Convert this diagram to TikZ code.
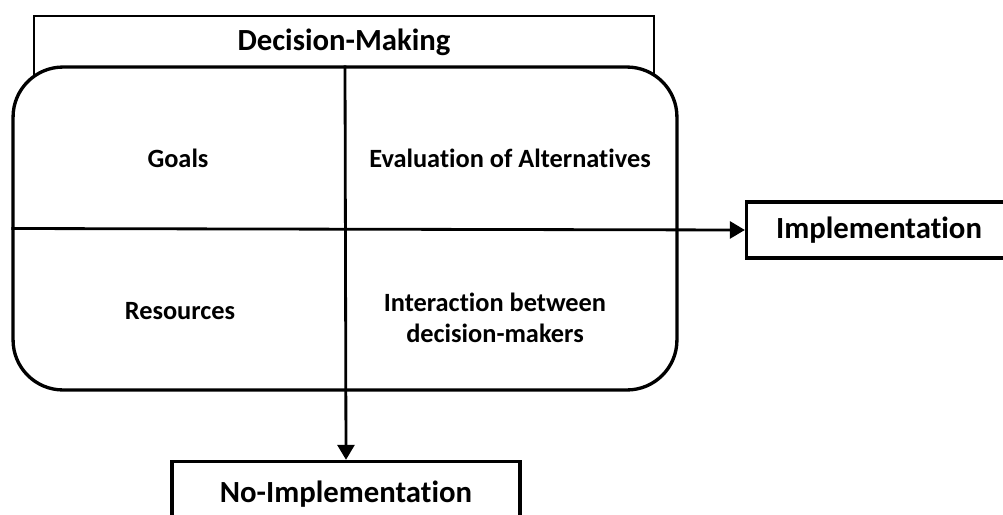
\documentclass[tikz,border=0pt]{standalone}
\usepackage{fontspec}
\setmainfont{Carlito}[Ligatures = NoCommon]
\usetikzlibrary{arrows.meta}
\tikzset{box/.style = {draw, line width = 1.9pt, inner sep = 0}}
\tikzset{head/.style = {font = \fontsize{17.5}{20}\selectfont\bfseries}}
\tikzset{quad/.style = {font = \fontsize{15}{18}\selectfont\bfseries, align = center}}
\tikzset{arr/.style = {line width = 1.6pt, -{Triangle[length = 0.3cm, width = 0.34cm]}}}

\begin{document}
\begin{tikzpicture}[x = 0.02cm, y = -0.02cm]
    \useasboundingbox (0,0) rectangle (1003,514);
    % title tab behind the main box
    \draw [line width = 1.3pt] (34,16) rectangle (654,110);
    \node [head] (title) at (344,42) {Decision-Making};
    \node [box, fill = white, rounded corners = 1cm,
           minimum width = 13.28cm, minimum height = 6.46cm] (dm) at (345,228.5) {};

    \node [box, head, minimum width = 5.3cm, minimum height = 1.12cm] (impl) at (879,230) {Implementation};
    \node [box, head, minimum width = 6.96cm, minimum height = 1.3cm] (noimpl) at (346,494) {No-Implementation};

    % dividers and arrows
    \draw [arr] (dm.west) -- (impl.west);
    \draw [arr] (dm.north) -- (noimpl.north);

    \node [quad] (goals) at (178,158) {Goals};
    \node [quad] (eval) at (510,158) {Evaluation of Alternatives};
    \node [quad] (res) at (180,311) {Resources};
    \node [quad] (inter) at (495,318) {Interaction between\\decision-makers};
\end{tikzpicture}
\end{document}
